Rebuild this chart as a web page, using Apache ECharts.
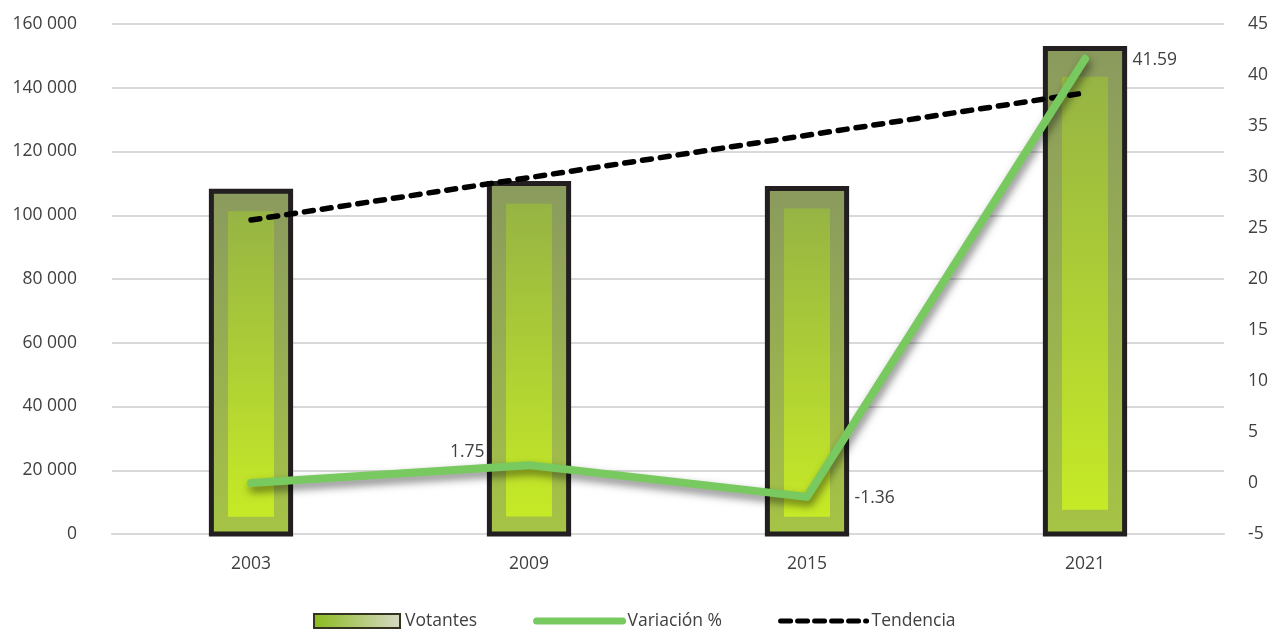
<!DOCTYPE html>
<html>
<head>
<meta charset="utf-8">
<script src="https://cdn.jsdelivr.net/npm/echarts@6/dist/echarts.min.js"></script>
<style>
html,body{margin:0;padding:0;background:#fff;}
#chart{width:1277px;height:631px;}
</style>
</head>
<body>
<div id="chart"></div>
<script>
const categories = ['2003', '2009', '2015', '2021'];
const votantes = [107500, 110000, 108400, 152300];
const variacion = [0, 1.75, -1.36, 41.59];
const tendencia = [98500, null, null, 138400];
const leftTicks = { min: 0, max: 160000, interval: 20000 };
const rightTicks = { min: -5, max: 45, interval: 5 };

const FONT = 'Open Sans';
const TXT = '#404040';
const FS = 17.5;
const GREEN = '#78c95f';

const chart = echarts.init(document.getElementById('chart'), null, { renderer: 'canvas' });

function fmtThousands(v) {
  return String(v).replace(/\B(?=(\d{3})+(?!\d))/g, ' ');
}

const outerGrad = () => new echarts.graphic.LinearGradient(0, 0, 0, 1, [
  { offset: 0, color: '#8a9a5e' },
  { offset: 1, color: '#a6c445' }
]);
const innerGrad = () => new echarts.graphic.LinearGradient(0, 0, 0, 1, [
  { offset: 0, color: '#96b444' },
  { offset: 1, color: '#c6ea26' }
]);

const labelCfg = [
  { show: false },
  { show: true, position: 'left', distance: 44, offset: [0, -13] },
  { show: true, position: 'right', distance: 47, offset: [0, 1] },
  { show: true, position: 'right', distance: 47, offset: [0, 1] }
];

const option = {
  backgroundColor: '#ffffff',
  animation: false,
  textStyle: { fontFamily: FONT },
  grid: { left: 112, right: 53, top: 24, bottom: 97, containLabel: false },
  legend: {
    left: 308,
    top: 607,
    itemWidth: 86,
    itemHeight: 14,
    itemGap: 56,
    textStyle: { fontFamily: FONT, fontSize: FS, color: TXT },
    data: [
      {
        name: 'Votantes', icon: 'rect',
        itemStyle: {
          color: new echarts.graphic.LinearGradient(0, 0, 1, 0, [
            { offset: 0, color: '#8aba1c' },
            { offset: 1, color: '#d6d9c6' }
          ]),
          borderColor: '#33331f', borderWidth: 2
        }
      },
      {
        name: 'Variación %',
        itemStyle: { color: 'rgba(0,0,0,0)', borderWidth: 0 },
        lineStyle: { color: GREEN, width: 7, cap: 'round' }
      },
      {
        name: 'Tendencia',
        itemStyle: { color: 'rgba(0,0,0,0)', borderWidth: 0 },
        lineStyle: { color: '#000', width: 5, type: [10, 7], cap: 'round' }
      }
    ]
  },
  xAxis: {
    type: 'category',
    data: categories,
    axisLine: { show: true, lineStyle: { color: '#d9d9d9', width: 2 } },
    axisTick: { show: false },
    axisLabel: { fontFamily: FONT, fontSize: FS, color: TXT, margin: 21 },
    splitLine: { show: false }
  },
  yAxis: [
    {
      type: 'value',
      min: leftTicks.min, max: leftTicks.max, interval: leftTicks.interval,
      axisLine: { show: false }, axisTick: { show: false },
      axisLabel: { fontFamily: FONT, fontSize: FS, color: TXT, margin: 35, formatter: fmtThousands },
      splitLine: { show: true, lineStyle: { color: '#d9d9d9', width: 2 } }
    },
    {
      type: 'value',
      min: rightTicks.min, max: rightTicks.max, interval: rightTicks.interval,
      axisLine: { show: false }, axisTick: { show: false },
      axisLabel: { fontFamily: FONT, fontSize: FS, color: TXT, margin: 24 },
      splitLine: { show: false }
    }
  ],
  series: [
    {
      name: 'Votantes',
      type: 'custom',
      yAxisIndex: 0,
      encode: { x: 0, y: 1 },
      data: votantes.map((v, i) => [i, v]),
      z: 2,
      renderItem: function (params, api) {
        const ci = api.value(0), v = api.value(1);
        const band = api.size([1, 0])[0];
        const w = band * 0.285;
        const iw = w * 0.58;
        const pTop = api.coord([ci, v]);
        const pBot = api.coord([ci, 0]);
        const iTop = api.coord([ci, v * 0.942]);
        const iBot = api.coord([ci, v * 0.05]);
        return {
          type: 'group',
          children: [
            {
              type: 'rect',
              shape: { x: pTop[0] - w / 2, y: pTop[1], width: w, height: pBot[1] - pTop[1] },
              style: { fill: outerGrad(), stroke: '#231f20', lineWidth: 5 }
            },
            {
              type: 'rect',
              shape: { x: pTop[0] - iw / 2, y: iTop[1], width: iw, height: iBot[1] - iTop[1] },
              style: { fill: innerGrad() }
            }
          ]
        };
      }
    },
    {
      name: 'Variación %',
      type: 'line',
      yAxisIndex: 1,
      symbol: 'circle',
      symbolSize: 1,
      showSymbol: true,
      z: 4,
      data: variacion.map((v, i) => ({ value: v, label: labelCfg[i] })),
      label: { fontFamily: FONT, fontSize: FS, color: TXT, formatter: p => String(p.value) },
      itemStyle: { color: GREEN },
      lineStyle: {
        color: GREEN, width: 8, cap: 'round', join: 'round',
        shadowColor: 'rgba(0,0,0,0.5)', shadowBlur: 8, shadowOffsetX: 2, shadowOffsetY: 5
      }
    },
    {
      name: 'Tendencia',
      type: 'line',
      yAxisIndex: 0,
      symbol: 'none',
      connectNulls: true,
      z: 3,
      data: tendencia,
      itemStyle: { color: '#000000' },
      lineStyle: { color: '#000000', width: 5.5, type: [9, 9], cap: 'round' }
    }
  ]
};
chart.setOption(option);
</script>
</body>
</html>
